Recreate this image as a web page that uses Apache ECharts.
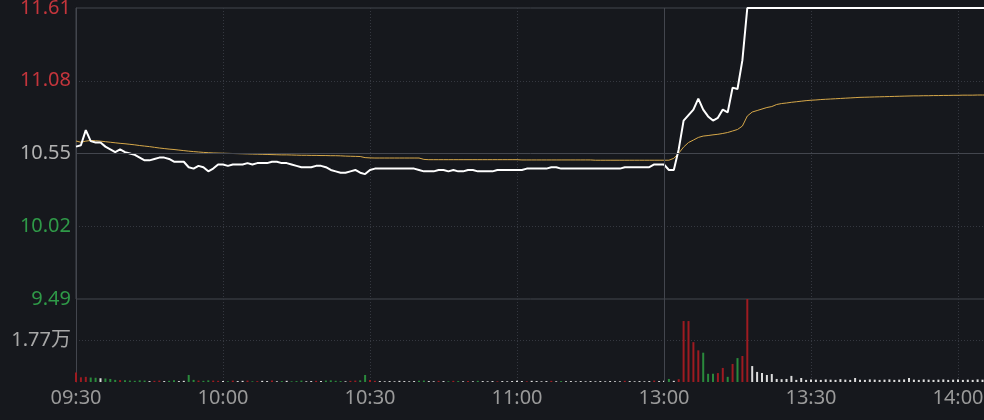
<!DOCTYPE html>
<html>
<head>
<meta charset="utf-8">
<script src="https://cdn.jsdelivr.net/npm/echarts@6/dist/echarts.min.js"></script>
<style>
html,body{margin:0;padding:0;background:#16181d;}
#c{width:984px;height:420px;}
</style>
</head>
<body>
<div id="c"></div>
<script>
// ---- data ----
const timeLabels = ['09:30','10:00','10:30','11:00','13:00','13:30','14:00','14:30','15:00'];
const priceTickLabels = ['9.49','10.02','10.55','11.08','11.61'];
const prevClose = 10.55;
const priceMin = 9.49;
const priceMax = 11.61;
const volumeTick = 17700;

// minute prices 09:30-11:30 (index 0-120)
const priceAM = [
 10.60,10.61,10.72,10.64,10.63,10.63,10.60,10.58,10.56,10.58,
 10.56,10.55,10.54,10.52,10.50,10.50,10.51,10.52,10.52,10.51,
 10.49,10.49,10.49,10.45,10.44,10.46,10.45,10.42,10.44,10.47,
 10.47,10.46,10.47,10.47,10.47,10.48,10.47,10.48,10.48,10.48,
 10.49,10.49,10.48,10.48,10.47,10.46,10.45,10.45,10.45,10.46,
 10.46,10.45,10.43,10.42,10.41,10.41,10.42,10.43,10.41,10.40,
 10.43,10.44,10.44,10.44,10.44,10.44,10.44,10.44,10.44,10.44,
 10.43,10.42,10.42,10.42,10.43,10.43,10.42,10.43,10.42,10.42,
 10.43,10.43,10.42,10.42,10.42,10.42,10.43,10.43,10.43,10.43,
 10.43,10.43,10.44,10.44,10.44,10.44,10.44,10.45,10.45,10.44,
 10.44,10.44,10.44,10.44,10.44,10.44,10.44,10.44,10.44,10.44,
 10.44,10.44,10.45,10.45,10.45,10.45,10.45,10.45,10.47,10.47,
 10.47
];
// minute prices 13:01-14:06 (index 121-186)
const pricePM = [
 10.43,10.43,10.58,10.79,10.83,10.87,10.95,10.87,10.82,10.79,
 10.81,10.87,10.85,11.03,11.02,11.23,
 11.61,11.61,11.61,11.61,11.61,11.61,11.61,11.61,11.61,11.61,
 11.61,11.61,11.61,11.61,11.61,11.61,11.61,11.61,11.61,11.61,
 11.61,11.61,11.61,11.61,11.61,11.61,11.61,11.61,11.61,11.61,
 11.61,11.61,11.61,11.61,11.61,11.61,11.61,11.61,11.61,11.61,
 11.61,11.61,11.61,11.61,11.61,11.61,11.61,11.61,11.61,11.61
];
const avgAM = [
 10.641,10.632,10.640,10.645,10.643,10.640,10.636,10.632,10.628,10.624,
 10.621,10.617,10.613,10.608,10.604,10.600,10.595,10.590,10.586,10.582,
 10.579,10.575,10.571,10.567,10.564,10.561,10.558,10.556,10.554,10.553,
 10.552,10.551,10.550,10.549,10.548,10.547,10.546,10.545,10.544,10.543,
 10.542,10.541,10.540,10.540,10.539,10.538,10.537,10.537,10.536,10.536,
 10.535,10.535,10.534,10.534,10.533,10.531,10.530,10.529,10.528,10.520,
 10.518,10.517,10.517,10.517,10.517,10.517,10.517,10.517,10.517,10.517,
 10.517,10.507,10.505,10.505,10.505,10.505,10.505,10.505,10.505,10.505,
 10.505,10.505,10.505,10.505,10.505,10.505,10.505,10.505,10.505,10.505,
 10.505,10.503,10.503,10.503,10.503,10.503,10.503,10.503,10.503,10.503,
 10.503,10.503,10.503,10.503,10.503,10.503,10.501,10.501,10.501,10.501,
 10.501,10.501,10.501,10.501,10.501,10.501,10.501,10.501,10.501,10.501,
 10.501
];
const avgPM = [
 10.501,10.515,10.552,10.597,10.630,10.648,10.667,10.677,10.681,10.686,
 10.690,10.696,10.703,10.714,10.725,10.750,10.823,10.852,10.863,10.874,
 10.885,10.892,10.907,10.914,10.918,10.923,10.927,10.931,10.935,10.938,
 10.940,10.943,10.945,10.947,10.949,10.951,10.953,10.955,10.957,10.959,
 10.960,10.961,10.962,10.963,10.964,10.965,10.966,10.967,10.968,10.969,
 10.970,10.970,10.971,10.971,10.972,10.972,10.973,10.973,10.974,10.974,
 10.975,10.975,10.975,10.976,10.976,10.976
];
const volumeAM = [
 4000,2000,2200,1900,1800,1600,1500,1300,900,800,
 700,600,500,700,600,400,500,600,400,500,
 700,400,500,3000,900,600,500,700,600,500,
 400,300,600,400,500,600,300,400,500,400,
 600,300,400,500,300,400,600,300,400,500,
 400,600,700,500,400,300,500,600,700,3000,
 900,500,400,300,400,300,500,400,300,400,
 500,600,400,300,500,400,300,500,400,300,
 400,300,500,400,300,400,300,400,300,400,
 500,400,300,500,400,300,400,500,300,400,
 300,400,300,400,300,400,300,400,300,400,
 300,300,500,400,300,400,300,400,600,400,
 500
];
const volumePM = [
 1300,500,1200,26000,26000,17000,13500,12500,3500,3500,
 3800,6000,2200,7700,10200,11100,35400,6800,4300,3800,
 3000,3400,1300,1200,1300,2600,900,1700,900,1100,
 1000,900,1100,1000,900,1200,1000,900,1700,1000,
 900,1100,1000,900,1000,1100,900,1000,1100,1700,
 1000,900,1100,1000,900,1000,1100,900,1000,1100,
 900,1000,900,1100,1000,900
];

// ---- build ----
const prices = priceAM.concat(pricePM);
const avgs = avgAM.concat(avgPM);
const vols = volumeAM.concat(volumePM);

const FONT = '"Noto Sans", "Noto Sans CJK SC", sans-serif';
const RED = '#c4353c', GREEN = '#2f9a48', GREY = '#b2b2b2';
const SOLID = '#43464e', DOT = '#353840';

const priceData = prices.map((p, i) => [i, p]);
const avgData = avgs.map((p, i) => [i, p]);
const volData = vols.map((v, i) => {
  const prev = i === 0 ? prevClose : prices[i - 1];
  const cur = prices[i];
  let style;
  if (cur > prev) style = {color: '#9e1b21'};
  else if (cur < prev) style = {color: '#2a8a3c'};
  else style = {color: '#dcdcdc'};
  return {value: [i, v], itemStyle: style};
});

const chart = echarts.init(document.getElementById('c'), null, {renderer: 'canvas'});
const dotted = {color: DOT, type: [1, 2], width: 1};
chart.setOption({
  backgroundColor: '#16181d',
  animation: false,
  grid: [
    {left: 76, top: 8, width: 1176, height: 291, show: true, borderColor: SOLID, borderWidth: 1,
     backgroundColor: 'transparent', containLabel: false, outerBoundsMode: 'none'},
    {left: 76, top: 299, width: 1176, height: 83, containLabel: false, outerBoundsMode: 'none'}
  ],
  xAxis: [
    {gridIndex: 0, type: 'value', min: 0, max: 240, interval: 30,
     axisLine: {show: false}, axisTick: {show: false}, axisLabel: {show: false},
     splitLine: {show: true, showMinLine: false, lineStyle: dotted}},
    {gridIndex: 1, type: 'value', min: 0, max: 240, interval: 30,
     axisLine: {show: false}, axisTick: {show: false},
     axisLabel: {color: '#9a9a9a', fontSize: 20, fontFamily: FONT, margin: 6,
       formatter: v => timeLabels[Math.round(v / 30)]},
     splitLine: {show: true, showMinLine: false, lineStyle: dotted}}
  ],
  yAxis: [
    {gridIndex: 0, type: 'value', min: priceMin, max: priceMax, show: false, position: 'right'},
    {gridIndex: 0, type: 'value', position: 'left', min: 0, max: priceTickLabels.length - 1, interval: 1,
     axisLine: {show: true, lineStyle: {color: SOLID}}, axisTick: {show: false},
     axisLabel: {fontSize: 20, fontFamily: FONT, margin: 5,
       formatter: v => {
         const i = Math.round(v);
         const k = i < 2 ? 'g' : (i === 2 ? 'n' : 'r');
         return '{' + k + '|' + priceTickLabels[i] + '}';
       },
       rich: {
         g: {color: GREEN, fontSize: 20, fontFamily: FONT},
         n: {color: GREY, fontSize: 20, fontFamily: FONT},
         r: {color: RED, fontSize: 20, fontFamily: FONT}
       }},
     splitLine: {show: true, showMinLine: false, showMaxLine: false, lineStyle: dotted}},
    {gridIndex: 1, type: 'value', position: 'left', min: 0, max: volumeTick * 2, interval: volumeTick,
     axisLine: {show: true, lineStyle: {color: SOLID}}, axisTick: {show: false},
     axisLabel: {color: '#a8a8a8', fontSize: 20, fontFamily: FONT, margin: 5,
       formatter: v => (v === volumeTick ? (v / 10000).toFixed(2) + '万' : '')},
     splitLine: {show: true, showMinLine: false, showMaxLine: false, lineStyle: dotted}}
  ],
  series: [
    {type: 'line', name: 'avg', xAxisIndex: 0, yAxisIndex: 0, data: avgData,
     showSymbol: false, symbol: 'none', lineStyle: {color: '#d6a84a', width: 1}, z: 3, silent: true,
     markLine: {silent: true, symbol: 'none', label: {show: false},
       data: [
         {yAxis: prevClose, lineStyle: {color: SOLID, type: 'solid', width: 1}},
         {xAxis: 120, lineStyle: {color: SOLID, type: 'solid', width: 1}}
       ]}},
    {type: 'line', name: 'price', xAxisIndex: 0, yAxisIndex: 0, data: priceData, clip: false,
     showSymbol: false, symbol: 'none', lineStyle: {color: '#ffffff', width: 2}, z: 4, silent: true},
    {type: 'bar', name: 'vol', xAxisIndex: 1, yAxisIndex: 2, data: volData, barWidth: 2, silent: true,
     markLine: {silent: true, symbol: 'none', label: {show: false},
       data: [{xAxis: 120, lineStyle: {color: SOLID, type: 'solid', width: 1}}]}}
  ]
});
</script>
</body>
</html>
